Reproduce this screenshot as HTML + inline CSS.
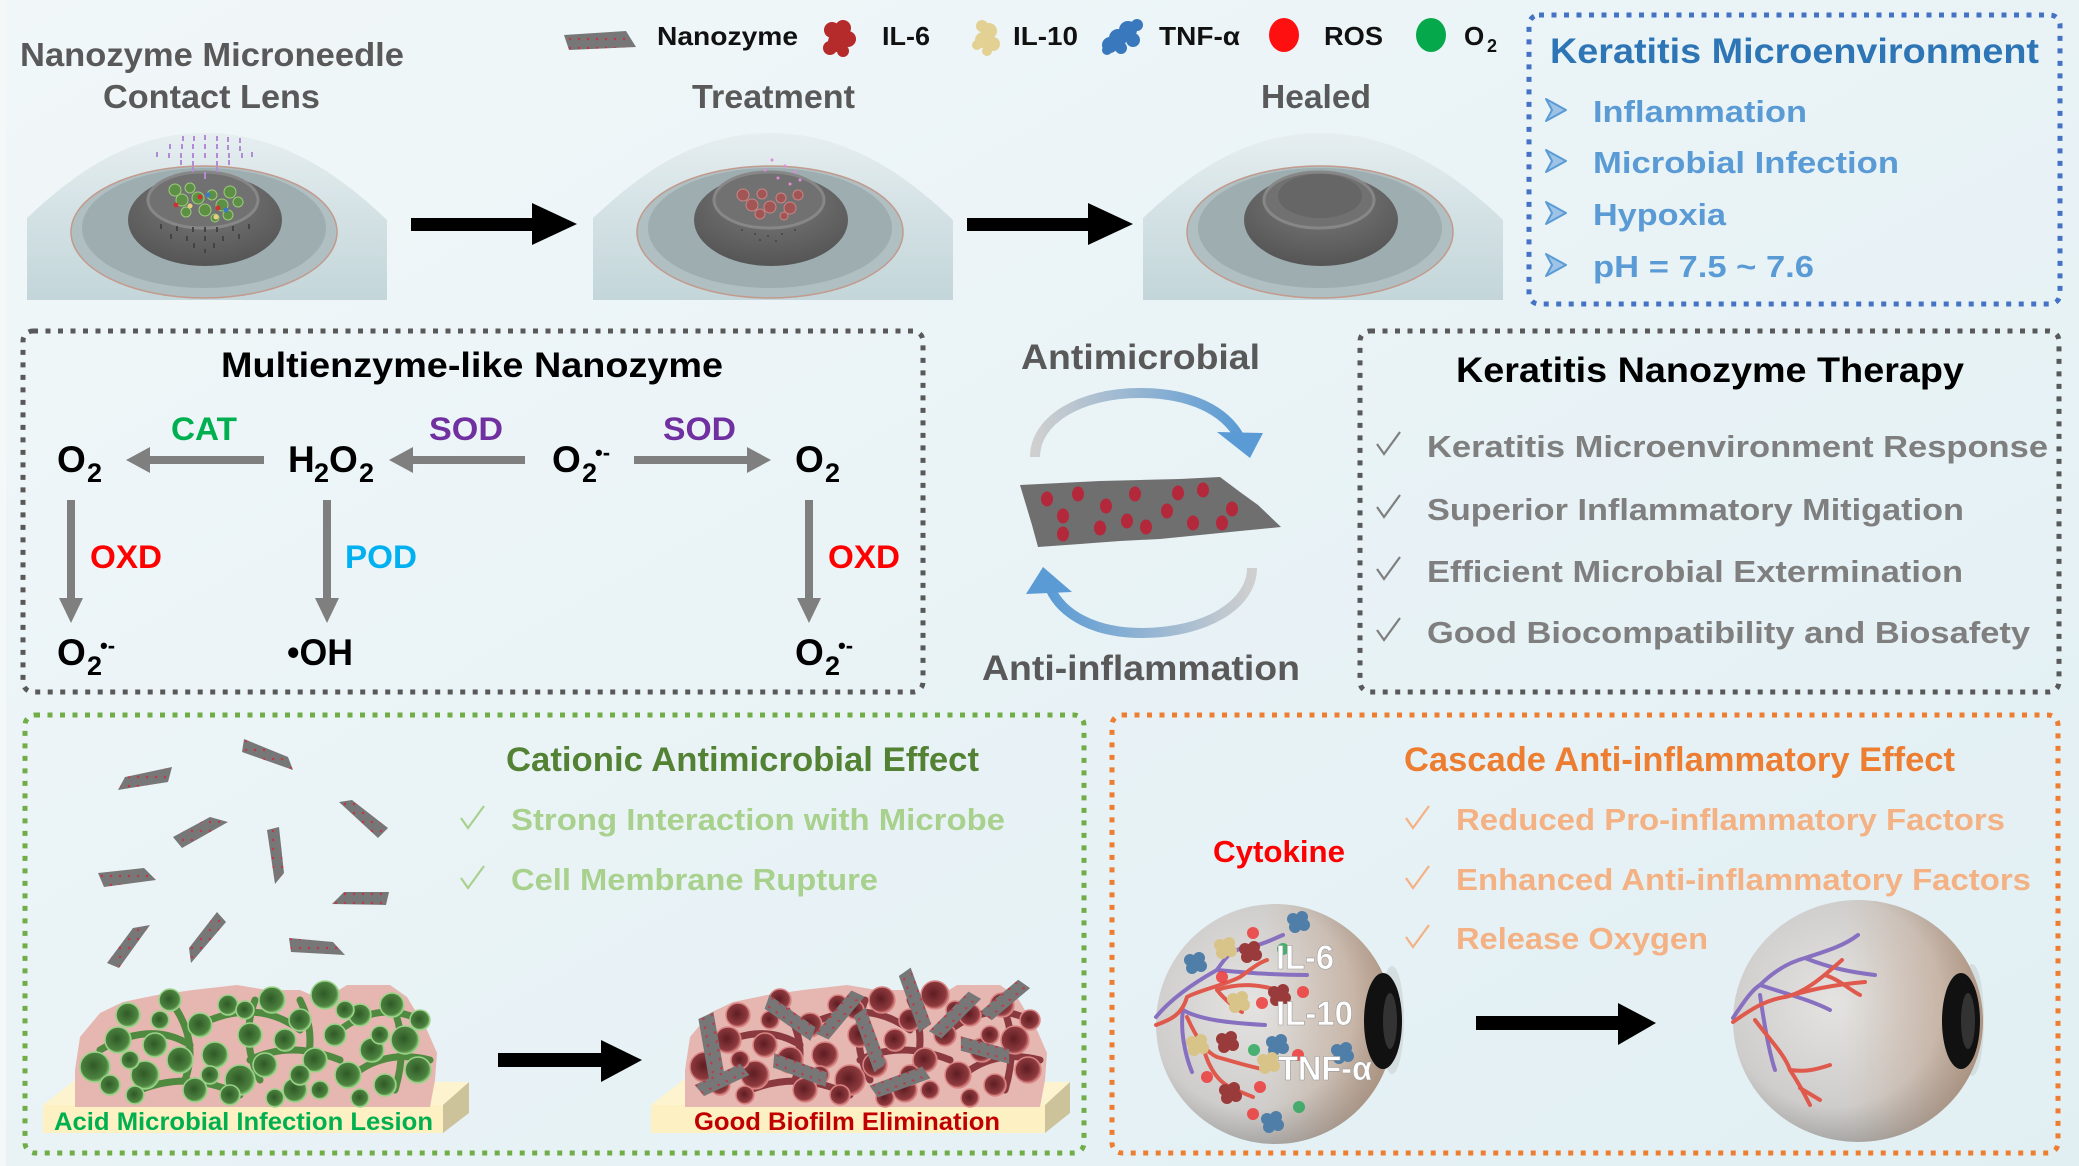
<!DOCTYPE html>
<html><head><meta charset="utf-8"><style>
html,body{margin:0;padding:0;background:#eaf3f6;}
svg{display:block;}
text{font-family:"Liberation Sans",Arial,sans-serif;font-weight:bold;}
</style></head><body>
<svg width="2079" height="1166" viewBox="0 0 2079 1166" xmlns="http://www.w3.org/2000/svg">
<defs>
<linearGradient id="bg" x1="0" y1="0" x2="1" y2="1"><stop offset="0" stop-color="#f1f7f9"/><stop offset="1" stop-color="#e1eff3"/></linearGradient>
<linearGradient id="lidG" x1="0" y1="0" x2="0" y2="1"><stop offset="0" stop-color="#e6eef0"/><stop offset="0.5" stop-color="#d3e1e4"/><stop offset="1" stop-color="#c3d6d9"/></linearGradient>
<radialGradient id="irisG" cx="0.5" cy="0.3" r="0.7"><stop offset="0" stop-color="#7a7a7a"/><stop offset="1" stop-color="#555"/></radialGradient>
<linearGradient id="arcA" x1="0" y1="0" x2="1" y2="0"><stop offset="0" stop-color="#cfcfcf"/><stop offset="1" stop-color="#5b9bd5"/></linearGradient>
<linearGradient id="arcB" x1="0" y1="0" x2="1" y2="0"><stop offset="0" stop-color="#5b9bd5"/><stop offset="1" stop-color="#cfcfcf"/></linearGradient>
<radialGradient id="sph" cx="0.4" cy="0.42" r="0.62"><stop offset="0" stop-color="#e4e3e1"/><stop offset="0.7" stop-color="#cfcdcb"/><stop offset="1" stop-color="#9e9d9c"/></radialGradient>
<linearGradient id="warm" x1="0" y1="0" x2="1" y2="0"><stop offset="0.45" stop-color="#c49a78" stop-opacity="0"/><stop offset="1" stop-color="#b98a68" stop-opacity="0.55"/></linearGradient>
<radialGradient id="gm" cx="0.45" cy="0.45" r="0.55"><stop offset="0" stop-color="#2f5a26"/><stop offset="0.8" stop-color="#4d8340"/><stop offset="1" stop-color="#86c472"/></radialGradient>
<radialGradient id="rm" cx="0.45" cy="0.45" r="0.55"><stop offset="0" stop-color="#5e1d22"/><stop offset="0.8" stop-color="#8e3a3e"/><stop offset="1" stop-color="#d27a78"/></radialGradient>
<pattern id="dots" width="9" height="9" patternUnits="userSpaceOnUse"><rect width="9" height="9" fill="#777"/><circle cx="3" cy="3" r="1.2" fill="#c23646"/></pattern>
<g id="mics">
<circle cx="95" cy="1067" r="15"/><circle cx="118" cy="1040" r="13"/><circle cx="128" cy="1015" r="12"/><circle cx="145" cy="1075" r="14"/><circle cx="155" cy="1045" r="12"/><circle cx="170" cy="1000" r="11"/><circle cx="180" cy="1060" r="13"/><circle cx="195" cy="1090" r="12"/><circle cx="200" cy="1025" r="12"/><circle cx="215" cy="1055" r="13"/><circle cx="228" cy="1005" r="10"/><circle cx="240" cy="1080" r="15"/><circle cx="250" cy="1035" r="12"/><circle cx="265" cy="1065" r="12"/><circle cx="272" cy="1000" r="13"/><circle cx="285" cy="1040" r="11"/><circle cx="295" cy="1090" r="12"/><circle cx="300" cy="1020" r="11"/><circle cx="315" cy="1060" r="12"/><circle cx="325" cy="995" r="14"/><circle cx="335" cy="1035" r="11"/><circle cx="348" cy="1075" r="13"/><circle cx="360" cy="1015" r="11"/><circle cx="372" cy="1050" r="12"/><circle cx="385" cy="1085" r="11"/><circle cx="392" cy="1005" r="12"/><circle cx="405" cy="1040" r="14"/><circle cx="418" cy="1070" r="13"/><circle cx="420" cy="1020" r="10"/><circle cx="110" cy="1085" r="10"/><circle cx="135" cy="1095" r="9"/><circle cx="230" cy="1095" r="10"/><circle cx="275" cy="1098" r="9"/><circle cx="360" cy="1098" r="9"/><circle cx="160" cy="1020" r="9"/><circle cx="245" cy="1010" r="9"/><circle cx="345" cy="1010" r="9"/><circle cx="300" cy="1075" r="10"/><circle cx="210" cy="1075" r="9"/><circle cx="380" cy="1035" r="9"/><circle cx="130" cy="1060" r="9"/><circle cx="320" cy="1090" r="9"/>
</g>
<g id="tubes" fill="none">
<path d="M100,1050 Q150,1020 190,1045"/><path d="M170,1000 Q200,1040 185,1080"/><path d="M210,1020 Q260,1000 300,1030"/><path d="M250,1060 Q290,1040 340,1060"/><path d="M300,1000 Q320,1040 300,1080"/><path d="M340,1030 Q380,1000 420,1020"/><path d="M360,1070 Q390,1050 430,1060"/><path d="M140,1090 Q190,1070 240,1095"/><path d="M255,1000 Q240,1040 260,1080"/><path d="M390,1000 Q410,1040 395,1090"/>
</g>
<g id="eyeTop">
<path d="M27,300 L27,218 C70,178 125,133 205,133 C285,133 345,180 387,220 L387,300 Z" fill="url(#lidG)"/>
<ellipse cx="204" cy="232" rx="133" ry="66" fill="#b0bfc1" stroke="#c29a8e" stroke-width="1.5"/>
<ellipse cx="204" cy="228" rx="122" ry="60" fill="#9dadb0"/>
<ellipse cx="205" cy="220" rx="77" ry="46" fill="url(#irisG)"/>
<ellipse cx="203" cy="200" rx="55" ry="28" fill="#717171" stroke="#878787" stroke-width="3"/>
</g>
<g id="prot"><circle cx="-5" cy="-3" r="6"/><circle cx="4" cy="-5" r="6"/><circle cx="6" cy="3" r="6"/><circle cx="-3" cy="5" r="6"/><circle cx="0" cy="0" r="6"/></g>
</defs>

<rect width="2079" height="1166" fill="url(#bg)"/>
<rect width="6" height="1166" fill="#f4f8f9"/>

<!-- TOP ROW -->
<text x="20" y="66" font-size="33" fill="#595959" textLength="384" lengthAdjust="spacingAndGlyphs">Nanozyme Microneedle</text>
<text x="103" y="108" font-size="33" fill="#595959" textLength="217" lengthAdjust="spacingAndGlyphs">Contact Lens</text>
<text x="692" y="108" font-size="33" fill="#595959" textLength="163" lengthAdjust="spacingAndGlyphs">Treatment</text>
<text x="1261" y="108" font-size="33" fill="#595959" textLength="110" lengthAdjust="spacingAndGlyphs">Healed</text>

<!-- legend -->
<polygon points="564,35 626,31 636,47 569,50" fill="url(#dots)"/>
<text x="657" y="45" font-size="26" fill="#111" textLength="141" lengthAdjust="spacingAndGlyphs">Nanozyme</text>
<g fill="#b52a2a"><circle cx="832" cy="30" r="8"/><circle cx="843" cy="28" r="8"/><circle cx="848" cy="39" r="8"/><circle cx="838" cy="42" r="10"/><circle cx="830" cy="48" r="7"/><circle cx="843" cy="51" r="6"/></g>
<text x="882" y="45" font-size="26" fill="#111" textLength="48" lengthAdjust="spacingAndGlyphs">IL-6</text>
<g fill="#e3d193"><circle cx="982" cy="26" r="6"/><circle cx="989" cy="31" r="8"/><circle cx="983" cy="40" r="8"/><circle cx="993" cy="44" r="7"/><circle cx="987" cy="51" r="5"/><circle cx="977" cy="45" r="5"/></g>
<text x="1013" y="45" font-size="26" fill="#111" textLength="65" lengthAdjust="spacingAndGlyphs">IL-10</text>
<g fill="#3a78bd"><circle cx="1110" cy="45" r="8"/><circle cx="1118" cy="38" r="9"/><circle cx="1128" cy="30" r="9"/><circle cx="1137" cy="25" r="6"/><circle cx="1133" cy="40" r="7"/><circle cx="1107" cy="50" r="5"/><circle cx="1121" cy="48" r="6"/></g>
<text x="1159" y="45" font-size="26" fill="#111" textLength="81" lengthAdjust="spacingAndGlyphs">TNF-α</text>
<ellipse cx="1284" cy="35" rx="15" ry="17" fill="#ff1010"/>
<text x="1324" y="45" font-size="26" fill="#111" textLength="59" lengthAdjust="spacingAndGlyphs">ROS</text>
<ellipse cx="1431" cy="35" rx="15" ry="17" fill="#05a84a"/>
<text x="1464" y="45" font-size="26" fill="#111">O</text>
<text x="1487" y="52" font-size="18" fill="#111">2</text>

<!-- eyes top -->
<use href="#eyeTop"/>
<use href="#eyeTop" x="566"/>
<use href="#eyeTop" x="1116"/>
<!-- eye1 details -->
<g fill="#b48ad6">
<rect x="182" y="136" width="2" height="5"/><rect x="193" y="136" width="2" height="5"/><rect x="204" y="135" width="2" height="5"/><rect x="216" y="136" width="2" height="5"/><rect x="227" y="137" width="2" height="5"/><rect x="239" y="138" width="2" height="5"/>
<rect x="169" y="144" width="2" height="5"/><rect x="181" y="144" width="2" height="5"/><rect x="192" y="144" width="2" height="5"/><rect x="204" y="144" width="2" height="5"/><rect x="216" y="144" width="2" height="5"/><rect x="227" y="145" width="2" height="5"/><rect x="239" y="146" width="2" height="5"/>
<rect x="156" y="152" width="2" height="5"/><rect x="168" y="153" width="2" height="5"/><rect x="180" y="153" width="2" height="5"/><rect x="192" y="153" width="2" height="5"/><rect x="204" y="153" width="2" height="5"/><rect x="216" y="153" width="2" height="5"/><rect x="228" y="153" width="2" height="5"/><rect x="241" y="153" width="2" height="5"/><rect x="251" y="152" width="2" height="5"/>
<rect x="180" y="160" width="2" height="5"/><rect x="192" y="161" width="2" height="5"/><rect x="216" y="161" width="2" height="5"/><rect x="228" y="160" width="2" height="5"/>
<rect x="192" y="167" width="2" height="5"/><rect x="216" y="167" width="2" height="5"/><rect x="204" y="172" width="2" height="7"/>
</g>
<g fill="#5d8f45" stroke="#9ccb7c" stroke-width="1">
<circle cx="175" cy="190" r="6"/><circle cx="182" cy="200" r="6"/><circle cx="190" cy="188" r="5"/><circle cx="198" cy="198" r="6"/><circle cx="186" cy="212" r="5"/><circle cx="205" cy="210" r="6"/><circle cx="212" cy="195" r="5"/><circle cx="222" cy="205" r="6"/><circle cx="230" cy="192" r="6"/><circle cx="238" cy="202" r="5"/><circle cx="228" cy="215" r="5"/><circle cx="215" cy="218" r="4"/>
</g>
<circle cx="200" cy="197" r="2.5" fill="#c33"/><circle cx="218" cy="208" r="2.5" fill="#c33"/><circle cx="176" cy="205" r="2.5" fill="#c33"/><circle cx="208" cy="195" r="2.5" fill="#3b7bc4"/><circle cx="226" cy="210" r="2.5" fill="#3b7bc4"/><circle cx="190" cy="206" r="2.5" fill="#e6d080"/><circle cx="216" cy="217" r="2.5" fill="#e6d080"/>
<g fill="#444"><rect x="160" y="224" width="2" height="5"/><rect x="176" y="226" width="2" height="5"/><rect x="192" y="227" width="2" height="5"/><rect x="204" y="227" width="2" height="5"/><rect x="216" y="227" width="2" height="5"/><rect x="232" y="226" width="2" height="5"/><rect x="248" y="224" width="2" height="5"/><rect x="170" y="234" width="2" height="5"/><rect x="186" y="236" width="2" height="5"/><rect x="204" y="236" width="2" height="5"/><rect x="222" y="236" width="2" height="5"/><rect x="238" y="234" width="2" height="5"/><rect x="193" y="243" width="2" height="5"/><rect x="213" y="243" width="2" height="5"/><rect x="204" y="249" width="2" height="4"/></g>
<!-- eye2 details -->
<g fill="#a25555" stroke="#c98585" stroke-width="1">
<circle cx="743" cy="195" r="6"/><circle cx="752" cy="205" r="6"/><circle cx="762" cy="194" r="5"/><circle cx="770" cy="207" r="6"/><circle cx="781" cy="198" r="5"/><circle cx="790" cy="208" r="6"/><circle cx="798" cy="195" r="5"/><circle cx="760" cy="214" r="5"/><circle cx="784" cy="216" r="4"/>
</g>
<g fill="#e08ad8"><circle cx="772" cy="160" r="1.5"/><circle cx="785" cy="166" r="1.5"/><circle cx="765" cy="170" r="1.5"/><circle cx="795" cy="172" r="1.5"/><circle cx="778" cy="178" r="1.5"/><circle cx="790" cy="184" r="1.5"/><circle cx="800" cy="180" r="1.5"/></g>
<g fill="#444"><circle cx="742" cy="230" r="1"/><circle cx="755" cy="234" r="1"/><circle cx="768" cy="236" r="1"/><circle cx="782" cy="234" r="1"/><circle cx="795" cy="230" r="1"/><circle cx="760" cy="240" r="1"/><circle cx="776" cy="241" r="1"/></g>
<!-- eye3 pupil -->
<ellipse cx="1320" cy="196" rx="42" ry="22" fill="#666"/>

<!-- top arrows -->
<rect x="411" y="218" width="125" height="13" fill="#000"/><polygon points="532,203 577,224 532,245" fill="#000"/>
<rect x="967" y="218" width="125" height="13" fill="#000"/><polygon points="1088,203 1133,224 1088,245" fill="#000"/>

<!-- Keratitis Microenvironment box -->
<rect x="1529" y="15" width="531" height="289" rx="10" fill="none" stroke="#4472c4" stroke-width="5" stroke-dasharray="5 7.5"/>
<text x="1550" y="63" font-size="35" fill="#2e75b6" textLength="489" lengthAdjust="spacingAndGlyphs">Keratitis Microenvironment</text>
<g fill="#9dc3e6" stroke="#5b9bd5" stroke-width="2" stroke-linejoin="round">
<path d="M1546,99 L1566,110 L1546,121 L1552,110 Z"/>
<path d="M1546,150 L1566,161 L1546,172 L1552,161 Z"/>
<path d="M1546,202 L1566,213 L1546,224 L1552,213 Z"/>
<path d="M1546,254 L1566,265 L1546,276 L1552,265 Z"/>
</g>
<text x="1593" y="122" font-size="31" fill="#5b9bd5" textLength="214" lengthAdjust="spacingAndGlyphs">Inflammation</text>
<text x="1593" y="173" font-size="31" fill="#5b9bd5" textLength="306" lengthAdjust="spacingAndGlyphs">Microbial Infection</text>
<text x="1593" y="225" font-size="31" fill="#5b9bd5" textLength="133" lengthAdjust="spacingAndGlyphs">Hypoxia</text>
<text x="1593" y="277" font-size="31" fill="#5b9bd5" textLength="221" lengthAdjust="spacingAndGlyphs">pH = 7.5 ~ 7.6</text>

<!-- Multienzyme box -->
<rect x="23" y="331" width="900" height="361" rx="10" fill="none" stroke="#595959" stroke-width="5" stroke-dasharray="5 7.5"/>
<text x="221" y="377" font-size="35" fill="#000" textLength="502" lengthAdjust="spacingAndGlyphs">Multienzyme-like Nanozyme</text>
<g fill="#000">
<text x="57" y="472" font-size="37">O</text><text x="87" y="482" font-size="27">2</text>
<text x="288" y="472" font-size="37">H</text><text x="314" y="482" font-size="27">2</text><text x="329" y="472" font-size="37">O</text><text x="359" y="482" font-size="27">2</text>
<text x="552" y="472" font-size="37">O</text><text x="582" y="482" font-size="27">2</text><text x="595" y="460" font-size="22">•-</text>
<text x="795" y="472" font-size="37">O</text><text x="825" y="482" font-size="27">2</text>
<text x="57" y="665" font-size="37">O</text><text x="87" y="675" font-size="27">2</text><text x="100" y="653" font-size="22">•-</text>
<text x="287" y="665" font-size="37" textLength="66" lengthAdjust="spacingAndGlyphs">•OH</text>
<text x="795" y="665" font-size="37">O</text><text x="825" y="675" font-size="27">2</text><text x="838" y="653" font-size="22">•-</text>
</g>
<text x="171" y="440" font-size="32" fill="#00b050" textLength="66" lengthAdjust="spacingAndGlyphs">CAT</text>
<text x="429" y="440" font-size="32" fill="#7030a0" textLength="74" lengthAdjust="spacingAndGlyphs">SOD</text>
<text x="663" y="440" font-size="32" fill="#7030a0" textLength="73" lengthAdjust="spacingAndGlyphs">SOD</text>
<text x="90" y="568" font-size="32" fill="#ff0000" textLength="72" lengthAdjust="spacingAndGlyphs">OXD</text>
<text x="345" y="568" font-size="32" fill="#00b0f0" textLength="72" lengthAdjust="spacingAndGlyphs">POD</text>
<text x="828" y="568" font-size="32" fill="#ff0000" textLength="72" lengthAdjust="spacingAndGlyphs">OXD</text>
<g fill="#7f7f7f">
<rect x="148" y="456" width="116" height="8"/><polygon points="126,460 150,447 150,473"/>
<rect x="411" y="456" width="114" height="8"/><polygon points="389,460 413,447 413,473"/>
<rect x="634" y="456" width="114" height="8"/><polygon points="771,460 747,447 747,473"/>
<rect x="67" y="500" width="8" height="100"/><polygon points="59,598 83,598 71,623"/>
<rect x="323" y="500" width="8" height="100"/><polygon points="315,598 339,598 327,623"/>
<rect x="805" y="500" width="8" height="100"/><polygon points="797,598 821,598 809,623"/>
</g>

<!-- middle cycle -->
<text x="1021" y="369" font-size="35" fill="#595959" textLength="239" lengthAdjust="spacingAndGlyphs">Antimicrobial</text>
<text x="982" y="680" font-size="35" fill="#595959" textLength="318" lengthAdjust="spacingAndGlyphs">Anti-inflammation</text>
<path d="M1035,457 C1035,420 1080,393 1140,393 C1190,393 1225,410 1240,438" fill="none" stroke="url(#arcA)" stroke-width="10"/>
<polygon points="1217,432 1263,433 1250,458" fill="#5b9bd5"/>
<path d="M1252,568 C1252,605 1205,633 1142,633 C1095,633 1062,615 1050,588" fill="none" stroke="url(#arcB)" stroke-width="10"/>
<polygon points="1026,594 1072,592 1043,567" fill="#5b9bd5"/>
<path d="M1020,485 L1060,483 L1100,481 L1140,480 L1180,479 L1220,477 L1240,492 L1258,505 L1281,527 L1240,531 L1200,535 L1160,539 L1120,541 L1080,544 L1038,547 L1032,525 L1026,505 Z" fill="#6f6f6f"/>
<g fill="#b3283a">
<ellipse cx="1047" cy="499" rx="6" ry="7.5"/><ellipse cx="1078" cy="494" rx="6" ry="7.5"/><ellipse cx="1135" cy="494" rx="6" ry="7.5"/><ellipse cx="1178" cy="493" rx="6" ry="7.5"/><ellipse cx="1203" cy="490" rx="6" ry="7.5"/><ellipse cx="1106" cy="506" rx="6" ry="7.5"/><ellipse cx="1063" cy="516" rx="6" ry="7.5"/><ellipse cx="1167" cy="511" rx="6" ry="7.5"/><ellipse cx="1232" cy="509" rx="6" ry="7.5"/><ellipse cx="1127" cy="521" rx="6" ry="7.5"/><ellipse cx="1146" cy="527" rx="6" ry="7.5"/><ellipse cx="1100" cy="528" rx="6" ry="7.5"/><ellipse cx="1193" cy="523" rx="6" ry="7.5"/><ellipse cx="1222" cy="523" rx="6" ry="7.5"/><ellipse cx="1063" cy="534" rx="6" ry="7.5"/>
</g>

<!-- Therapy box -->
<rect x="1360" y="331" width="699" height="361" rx="10" fill="none" stroke="#595959" stroke-width="5" stroke-dasharray="5 7.5"/>
<text x="1456" y="382" font-size="35" fill="#000" textLength="508" lengthAdjust="spacingAndGlyphs">Keratitis Nanozyme Therapy</text>
<g fill="none" stroke="#7f7f7f" stroke-width="2.2">
<polyline points="1377,444 1384,454 1400,432"/><polyline points="1377,507 1384,517 1400,495"/><polyline points="1377,569 1384,579 1400,557"/><polyline points="1377,630 1384,640 1400,618"/>
</g>
<text x="1427" y="457" font-size="31" fill="#7f7f7f" textLength="621" lengthAdjust="spacingAndGlyphs">Keratitis Microenvironment Response</text>
<text x="1427" y="520" font-size="31" fill="#7f7f7f" textLength="537" lengthAdjust="spacingAndGlyphs">Superior Inflammatory Mitigation</text>
<text x="1427" y="582" font-size="31" fill="#7f7f7f" textLength="536" lengthAdjust="spacingAndGlyphs">Efficient Microbial Extermination</text>
<text x="1427" y="643" font-size="31" fill="#7f7f7f" textLength="603" lengthAdjust="spacingAndGlyphs">Good Biocompatibility and Biosafety</text>

<!-- Green box -->
<rect x="25" y="715" width="1059" height="438" rx="10" fill="none" stroke="#70ad47" stroke-width="5" stroke-dasharray="5 7.5"/>
<text x="506" y="771" font-size="34" fill="#548235" textLength="473" lengthAdjust="spacingAndGlyphs">Cationic Antimicrobial Effect</text>
<g fill="none" stroke="#a9d18e" stroke-width="2.2"><polyline points="461,818 468,828 484,806"/><polyline points="461,878 468,888 484,866"/></g>
<text x="511" y="830" font-size="31" fill="#a9d18e" textLength="494" lengthAdjust="spacingAndGlyphs">Strong Interaction with Microbe</text>
<text x="511" y="890" font-size="31" fill="#a9d18e" textLength="367" lengthAdjust="spacingAndGlyphs">Cell Membrane Rupture</text>
<g fill="url(#dots)">
<polygon points="244,739 288,757 293,770 242,752"/>
<polygon points="125,777 172,767 168,782 118,790"/>
<polygon points="339,802 352,800 388,828 378,838"/>
<polygon points="173,837 210,817 228,822 182,848"/>
<polygon points="267,830 279,827 284,873 275,884"/>
<polygon points="98,873 144,868 156,880 104,887"/>
<polygon points="344,892 389,892 386,905 332,904"/>
<polygon points="133,928 150,925 119,968 107,963"/>
<polygon points="217,912 226,922 191,963 189,948"/>
<polygon points="289,938 333,942 345,955 291,952"/>
</g>
<!-- slabs -->
<polygon points="43,1105 75,1080 469,1082 443,1105" fill="#fdf3cf"/>
<rect x="43" y="1105" width="400" height="28" fill="#fdf0c2"/>
<polygon points="443,1105 469,1082 469,1113 443,1133" fill="#cdc39a"/>
<polygon points="651,1105 683,1080 1070,1082 1045,1105" fill="#fdf3cf"/>
<rect x="651" y="1105" width="394" height="28" fill="#fdf0c2"/>
<polygon points="1045,1105 1070,1082 1070,1113 1045,1133" fill="#cdc39a"/>
<!-- blobs -->
<path id="pinkL" d="M75,1107 L75,1070 L80,1037 L100,1013 L123,1002 L157,995 L193,990 L237,985 L267,990 L300,990 L323,1000 L347,985 L390,985 L407,997 L427,1030 L437,1053 L435,1080 L430,1107 Z" fill="#e6b6b0"/>
<use href="#pinkL" x="610"/>
<use href="#tubes" stroke="#4f8a40" stroke-width="7" stroke-linecap="round"/>
<use href="#mics" fill="url(#gm)" stroke="#9bd38a" stroke-width="1.5"/>
<use href="#tubes" x="610" stroke="#8a3a3f" stroke-width="7" stroke-linecap="round"/>
<use href="#mics" x="610" fill="url(#rm)" stroke="#d98585" stroke-width="1.5"/>
<g fill="url(#dots)">
<rect x="-35" y="-8" width="70" height="16" transform="translate(712,1050) rotate(80) skewX(15)"/>
<rect x="-28" y="-7" width="56" height="14" transform="translate(790,1018) rotate(35) skewX(15)"/>
<rect x="-28" y="-7" width="56" height="14" transform="translate(840,1015) rotate(-50) skewX(15)"/>
<rect x="-30" y="-7" width="60" height="14" transform="translate(870,1040) rotate(70) skewX(15)"/>
<rect x="-30" y="-7" width="60" height="14" transform="translate(915,1000) rotate(70) skewX(15)"/>
<rect x="-28" y="-7" width="56" height="14" transform="translate(955,1015) rotate(-45) skewX(15)"/>
<rect x="-28" y="-7" width="56" height="14" transform="translate(800,1070) rotate(20) skewX(15)"/>
<rect x="-28" y="-7" width="56" height="14" transform="translate(900,1082) rotate(-20) skewX(15)"/>
<rect x="-25" y="-7" width="50" height="14" transform="translate(722,1080) rotate(-25) skewX(15)"/>
<rect x="-25" y="-7" width="50" height="14" transform="translate(985,1050) rotate(15) skewX(15)"/>
<rect x="-25" y="-7" width="50" height="14" transform="translate(1005,1000) rotate(-40) skewX(15)"/>
</g>
<text x="54" y="1130" font-size="25" fill="#00b050" textLength="379" lengthAdjust="spacingAndGlyphs">Acid Microbial Infection Lesion</text>
<text x="694" y="1130" font-size="25" fill="#c00000" textLength="306" lengthAdjust="spacingAndGlyphs">Good Biofilm Elimination</text>
<rect x="498" y="1053" width="107" height="14" fill="#000"/><polygon points="601,1040 642,1060 601,1082" fill="#000"/>

<!-- Orange box -->
<rect x="1112" y="715" width="946" height="438" rx="10" fill="none" stroke="#ed7d31" stroke-width="5" stroke-dasharray="5 7.5"/>
<text x="1404" y="771" font-size="34" fill="#ed7d31" textLength="551" lengthAdjust="spacingAndGlyphs">Cascade Anti-inflammatory Effect</text>
<g fill="none" stroke="#f4b183" stroke-width="2.2"><polyline points="1406,818 1413,828 1429,806"/><polyline points="1406,878 1413,888 1429,866"/><polyline points="1406,937 1413,947 1429,925"/></g>
<text x="1456" y="830" font-size="31" fill="#f4b183" textLength="549" lengthAdjust="spacingAndGlyphs">Reduced Pro-inflammatory Factors</text>
<text x="1456" y="890" font-size="31" fill="#f4b183" textLength="575" lengthAdjust="spacingAndGlyphs">Enhanced Anti-inflammatory Factors</text>
<text x="1456" y="949" font-size="31" fill="#f4b183" textLength="252" lengthAdjust="spacingAndGlyphs">Release Oxygen</text>
<text x="1213" y="862" font-size="31" fill="#ff0000" textLength="132" lengthAdjust="spacingAndGlyphs">Cytokine</text>

<!-- left sphere eye -->
<ellipse cx="1392" cy="1020" rx="12" ry="54" fill="#cfd9db" opacity="0.8"/>
<ellipse cx="1275" cy="1024" rx="119" ry="120" fill="url(#sph)"/>
<ellipse cx="1275" cy="1024" rx="119" ry="120" fill="url(#warm)"/>
<ellipse cx="1383" cy="1021" rx="19" ry="48" fill="#111"/>
<ellipse cx="1390" cy="1021" rx="7" ry="28" fill="#333"/>
<g fill="none" stroke-width="4" stroke-linecap="round" stroke-linejoin="round">
<path stroke="#8870c0" d="M1156,1017 C1170,1000 1190,985 1217,970 C1225,958 1232,948 1250,947 C1265,944 1275,938 1283,935"/>
<path stroke="#8870c0" d="M1217,970 C1240,972 1270,975 1307,975"/>
<path stroke="#8870c0" d="M1183,1010 C1200,1020 1230,1023 1265,1025"/>
<path stroke="#8870c0" d="M1183,1010 C1180,1030 1185,1055 1192,1072"/>
<path stroke="#e0594d" d="M1156,1025 C1170,1020 1182,1015 1187,997 C1200,990 1225,985 1240,977 C1250,970 1258,963 1267,960"/>
<path stroke="#e0594d" d="M1217,990 C1240,982 1260,985 1277,990"/>
<path stroke="#e0594d" d="M1217,990 C1225,1000 1235,1008 1242,1012"/>
<path stroke="#e0594d" d="M1187,1017 C1195,1035 1205,1052 1217,1057 C1235,1062 1250,1067 1267,1070"/>
<path stroke="#e0594d" d="M1203,1043 C1205,1060 1215,1080 1230,1087 C1240,1092 1248,1095 1253,1097"/>
</g>
<g fill="#ee3b3b" opacity="0.85"><circle cx="1253" cy="933" r="6"/><circle cx="1222" cy="977" r="6"/><circle cx="1303" cy="992" r="6"/><circle cx="1262" cy="1003" r="6"/><circle cx="1298" cy="1055" r="6"/><circle cx="1207" cy="1077" r="6"/><circle cx="1260" cy="1087" r="6"/><circle cx="1253" cy="1114" r="6"/></g>
<g fill="#2fa860" opacity="0.85"><circle cx="1283" cy="949" r="6"/><circle cx="1254" cy="1050" r="6"/><circle cx="1299" cy="1107" r="6"/></g>
<use href="#prot" x="1298" y="922" fill="#4f7ea8"/><use href="#prot" x="1195" y="963" fill="#4f7ea8"/><use href="#prot" x="1277" y="1045" fill="#4f7ea8"/><use href="#prot" x="1272" y="1122" fill="#4f7ea8"/><use href="#prot" x="1342" y="1053" fill="#4f7ea8"/>
<use href="#prot" x="1250" y="952" fill="#9a3b3b"/><use href="#prot" x="1279" y="995" fill="#9a3b3b"/><use href="#prot" x="1227" y="1042" fill="#9a3b3b"/><use href="#prot" x="1230" y="1093" fill="#9a3b3b"/>
<use href="#prot" x="1225" y="948" fill="#d8c488"/><use href="#prot" x="1238" y="1002" fill="#d8c488"/><use href="#prot" x="1197" y="1045" fill="#d8c488"/><use href="#prot" x="1268" y="1063" fill="#d8c488"/>
<g fill="#ffffff" stroke="#9a9a9a" stroke-width="0.6">
<text x="1276" y="969" font-size="34" textLength="58" lengthAdjust="spacingAndGlyphs">IL-6</text>
<text x="1276" y="1025" font-size="34" textLength="77" lengthAdjust="spacingAndGlyphs">IL-10</text>
<text x="1278" y="1080" font-size="34" textLength="94" lengthAdjust="spacingAndGlyphs">TNF-α</text>
</g>

<rect x="1476" y="1016" width="146" height="14" fill="#000"/><polygon points="1618,1003 1656,1023 1618,1045" fill="#000"/>

<!-- right sphere eye -->
<ellipse cx="1972" cy="1020" rx="12" ry="56" fill="#cfd9db" opacity="0.8"/>
<ellipse cx="1858" cy="1021" rx="125" ry="121" fill="url(#sph)"/>
<ellipse cx="1858" cy="1021" rx="125" ry="121" fill="url(#warm)"/>
<ellipse cx="1961" cy="1021" rx="19" ry="48" fill="#111"/>
<ellipse cx="1968" cy="1021" rx="7" ry="28" fill="#333"/>
<g fill="none" stroke-width="4" stroke-linecap="round" stroke-linejoin="round">
<path stroke="#8870c0" d="M1733,1018 C1745,1000 1752,990 1760,985 C1775,970 1790,962 1805,958 C1830,950 1845,945 1858,935"/>
<path stroke="#8870c0" d="M1805,958 C1830,968 1850,972 1875,975"/>
<path stroke="#8870c0" d="M1760,985 C1790,995 1810,1000 1830,1010"/>
<path stroke="#8870c0" d="M1760,995 C1765,1030 1770,1055 1775,1070"/>
<path stroke="#e0594d" d="M1733,1022 C1750,1010 1765,1000 1785,997 C1805,993 1825,975 1842,960"/>
<path stroke="#e0594d" d="M1785,997 C1810,990 1830,985 1865,982"/>
<path stroke="#e0594d" d="M1825,975 C1840,980 1850,990 1860,995"/>
<path stroke="#e0594d" d="M1755,1020 C1770,1040 1785,1055 1790,1070 C1800,1085 1805,1095 1810,1105"/>
<path stroke="#e0594d" d="M1790,1070 C1805,1072 1815,1070 1830,1065"/>
<path stroke="#e0594d" d="M1800,1088 L1820,1100"/>
</g>
</svg>
</body></html>
